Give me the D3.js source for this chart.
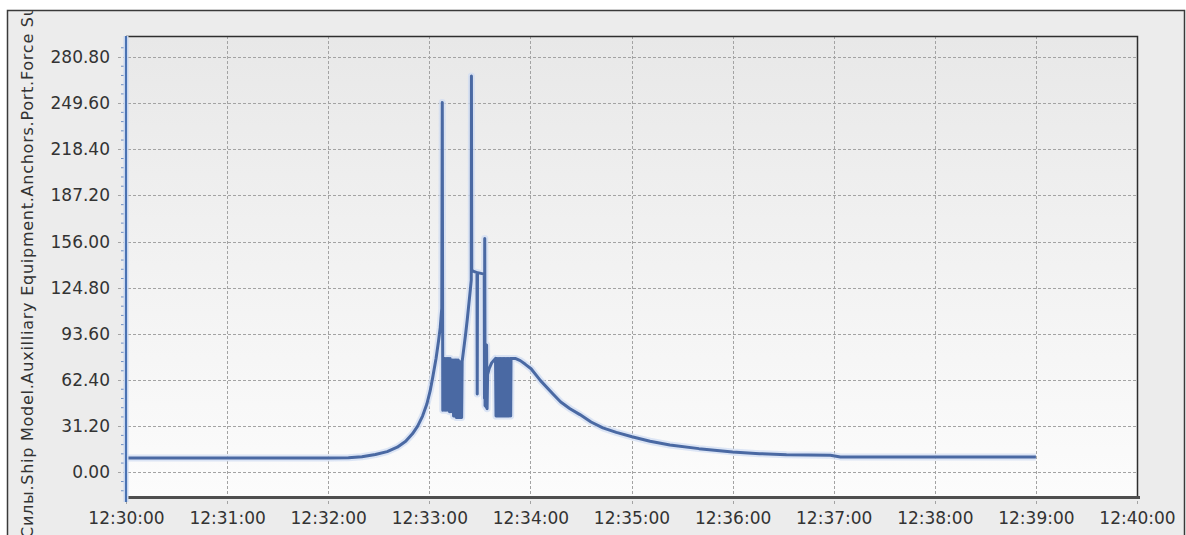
<!DOCTYPE html>
<html>
<head>
<meta charset="utf-8">
<script src="https://cdn.jsdelivr.net/npm/d3@7"></script>
<style>
  body { margin: 0; background: #fff; }
  text { font-family: "DejaVu Sans", Verdana, sans-serif; fill: #333; }
</style>
</head>
<body>
<div id="chart"></div>
<script>
// Chart data: seconds after 12:30:00 and the force value at that moment
var secs = [0, 60, 120, 132, 140, 148, 155, 161, 166, 170, 173, 176, 178.5, 180.5, 182, 184, 185.5, 186.5, 187.4,
  187.7, 188.0,
  188.4, 188.8, 189.2, 189.6, 190.0, 190.4, 190.8, 191.2, 191.6, 192.0, 192.4, 192.8, 193.2, 193.6, 194.0, 194.4,
  194.8, 195.2, 195.6, 196.0, 196.4, 196.8, 197.2, 197.6, 198.0, 198.4, 198.8, 199.2,
  199.5, 200.5, 201.5, 202.5, 203.5, 204.4, 204.9, 205.0, 205.2, 206.0,
  208.3, 208.45, 208.6, 212.6, 212.75, 212.9, 213.1, 213.4, 213.7, 214.0, 214.3, 214.6, 215.5, 217, 218.5,
  219.3, 219.6, 220.0, 220.4, 220.8, 221.2, 221.6, 222.0, 222.4, 222.8, 223.2, 223.6, 224.0, 224.4, 224.8,
  225.2, 225.6, 226.0, 226.4, 226.8, 227.2, 227.6, 228.0, 228.3, 228.5,
  231, 234, 237, 240.4, 246, 253.4, 258, 263.5, 269.4, 276, 283, 291, 300.3, 311, 322.8, 340, 360, 376, 392,
  418, 424, 540];
var force = [9.6, 9.6, 9.6, 9.8, 10.5, 12, 14, 17, 21, 26, 31, 38, 46, 55, 64, 77, 89, 98, 111,
  250, 42,
  77, 42, 77, 42, 77, 42, 77, 42, 77, 41, 77, 41, 76, 41, 76, 38,
  76, 38, 76, 37, 76, 37, 76, 37, 75, 37, 74, 37,
  75, 84, 93, 103, 114, 124, 130, 268, 137, 136,
  135, 53, 135, 134, 50, 158, 45, 86, 44, 86, 43, 66, 70, 74, 76,
  77, 38, 77, 38, 77, 38, 77, 38, 77, 38, 77, 38, 77, 38, 77,
  38, 77, 38, 77, 38, 77, 38, 77, 38, 77,
  77, 75.5, 73, 70, 62, 53, 47.5, 43, 39, 34, 30, 27, 24, 21, 18.5, 16, 13.8, 12.6, 11.8,
  11.5, 10.4, 10.3];

// Y tick values and axis title
var yTicks = [0, 31.2, 62.4, 93.6, 124.8, 156, 187.2, 218.4, 249.6, 280.8];
var yTitle = "Силы.Ship Model.Auxilliary Equipment.Anchors.Port.Force Sum";

// Chart Parameters
var svgWidth = 1186;
var svgHeight = 535;

var plot = { left: 126, right: 1137, top: 36, bottom: 497 };

var svg = d3.select("#chart")
  .append("svg")
  .attr("width", svgWidth)
  .attr("height", svgHeight);

var defs = svg.append("defs");

var grad = defs.append("linearGradient")
  .attr("id", "plotBg")
  .attr("x1", 0).attr("y1", 0)
  .attr("x2", 0).attr("y2", 1);
grad.append("stop").attr("offset", "0%").attr("stop-color", "#e8e8e8");
grad.append("stop").attr("offset", "100%").attr("stop-color", "#fcfcfc");

defs.append("clipPath")
  .attr("id", "frameClip")
  .append("rect")
  .attr("x", 8).attr("y", 11)
  .attr("width", 1176).attr("height", 530);

// outer frame
svg.append("rect")
  .attr("x", 7.5)
  .attr("y", 10.5)
  .attr("width", 1177)
  .attr("height", 540)
  .attr("fill", "#ececec")
  .attr("stroke", "#3a3a3a")
  .attr("stroke-width", 1.5);

// plot background
svg.append("rect")
  .attr("x", plot.left)
  .attr("y", plot.top)
  .attr("width", plot.right - plot.left)
  .attr("height", plot.bottom - plot.top)
  .attr("fill", "url(#plotBg)");

// scales
var base = new Date(2000, 0, 1, 12, 30, 0);
var toDate = s => new Date(base.getTime() + s * 1000);

var xScale = d3.scaleTime()
  .domain([base, toDate(600)])
  .range([plot.left, plot.right]);

var yScale = d3.scaleLinear()
  .domain([-16.7, 295])
  .range([plot.bottom, plot.top]);

var xTicks = d3.range(0, 11).map(m => toDate(m * 60));

// grid lines
svg.append("g")
  .selectAll("line")
  .data(yTicks)
  .enter()
  .append("line")
  .attr("x1", plot.left - 8)
  .attr("x2", plot.right)
  .attr("y1", d => Math.round(yScale(d)) + 0.5)
  .attr("y2", d => Math.round(yScale(d)) + 0.5)
  .attr("stroke", "#a3a3a3")
  .attr("stroke-dasharray", "3,2");

svg.append("g")
  .selectAll("line")
  .data(xTicks)
  .enter()
  .append("line")
  .attr("x1", d => Math.round(xScale(d)) + 0.5)
  .attr("x2", d => Math.round(xScale(d)) + 0.5)
  .attr("y1", plot.top)
  .attr("y2", plot.bottom + 7)
  .attr("stroke", "#a3a3a3")
  .attr("stroke-dasharray", "3,2");

// plot border top and right
svg.append("path")
  .attr("d", `M${plot.left},${plot.top + 0.5}H${plot.right + 0.5}V${plot.bottom}`)
  .attr("fill", "none")
  .attr("stroke", "#2e2e2e")
  .attr("stroke-width", 1.5);

// x axis (labels only, lines drawn above)
var xAxis = svg.append("g")
  .attr("transform", `translate(0, ${plot.bottom})`)
  .call(d3.axisBottom(xScale)
    .tickValues(xTicks)
    .tickFormat(d3.timeFormat("%H:%M:%S"))
    .tickSize(0)
    .tickPadding(15));
xAxis.select(".domain").remove();
xAxis.selectAll("text")
  .style("font-size", "17px")
  .style("font-family", "DejaVu Sans, Verdana, sans-serif")
  .attr("fill", "#333");

// y axis labels
var yAxis = svg.append("g")
  .attr("transform", `translate(${plot.left}, 0)`)
  .call(d3.axisLeft(yScale)
    .tickValues(yTicks)
    .tickFormat(d3.format(".2f"))
    .tickSize(0)
    .tickPadding(16));
yAxis.select(".domain").remove();
yAxis.selectAll("text")
  .style("font-size", "17px")
  .style("font-family", "DejaVu Sans, Verdana, sans-serif")
  .attr("fill", "#333");

// y minor ticks
var minor = [];
yTicks.forEach(function(t) {
  for (var k = 1; k < 5; k++) minor.push(t + k * 6.24);
});
minor = minor.concat([-6.24, -12.48]);
svg.append("g")
  .selectAll("line")
  .data(minor.filter(d => d < 293))
  .enter()
  .append("line")
  .attr("x1", plot.left - 5)
  .attr("x2", plot.left)
  .attr("y1", d => yScale(d))
  .attr("y2", d => yScale(d))
  .attr("stroke", "#6f8fc4")
  .attr("stroke-width", 1);

// data line
var pts = secs.map((s, i) => [toDate(s), force[i]]);
var line = d3.line()
  .x(d => xScale(d[0]))
  .y(d => yScale(d[1]));

svg.append("path")
  .datum(pts)
  .attr("d", line)
  .attr("fill", "none")
  .attr("stroke", "#cfdcf2")
  .attr("stroke-width", 7)
  .attr("stroke-linejoin", "round")
  .attr("opacity", 0.7);

svg.append("path")
  .datum(pts)
  .attr("d", line)
  .attr("fill", "none")
  .attr("stroke", "#4a69a3")
  .attr("stroke-width", 3)
  .attr("stroke-linejoin", "round");

// bottom axis line
svg.append("line")
  .attr("x1", plot.left)
  .attr("x2", plot.right + 3)
  .attr("y1", plot.bottom + 0.5)
  .attr("y2", plot.bottom + 0.5)
  .attr("stroke", "#4f4f4f")
  .attr("stroke-width", 3);

// left axis line
svg.append("line")
  .attr("x1", plot.left)
  .attr("x2", plot.left)
  .attr("y1", plot.top)
  .attr("y2", plot.bottom + 5)
  .attr("stroke", "#c9d7ef")
  .attr("stroke-width", 5);
svg.append("line")
  .attr("x1", plot.left)
  .attr("x2", plot.left)
  .attr("y1", plot.top)
  .attr("y2", plot.bottom + 5)
  .attr("stroke", "#4a72b2")
  .attr("stroke-width", 2);

// y axis title, clipped by the frame
svg.append("g")
  .attr("clip-path", "url(#frameClip)")
  .append("text")
  .attr("transform", "translate(33, 538) rotate(-90)")
  .attr("text-anchor", "start")
  .style("font-size", "16px")
  .style("letter-spacing", "0.75px")
  .attr("fill", "#333")
  .text(yTitle);
</script>
</body>
</html>
